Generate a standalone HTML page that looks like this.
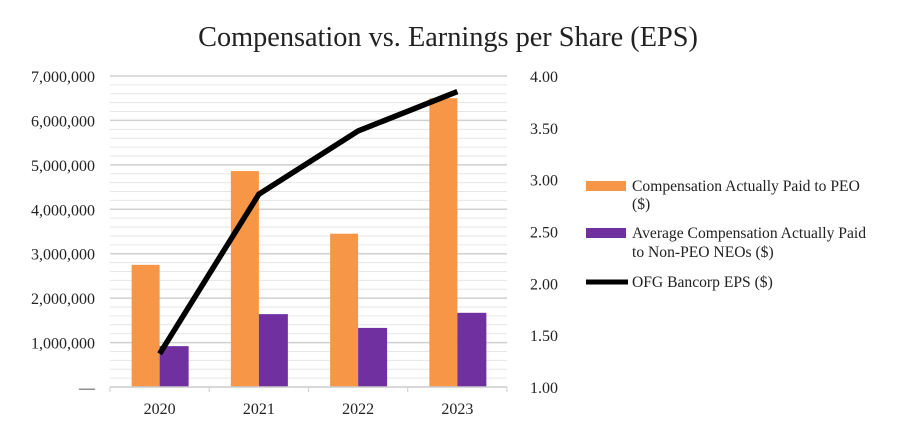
<!DOCTYPE html>
<html><head><meta charset="utf-8"><style>
body{margin:0;background:#fff;width:897px;height:436px;overflow:hidden}
svg text{font-family:"Liberation Serif",serif;fill:#222}
</style></head><body>
<svg id="chart" width="897" height="436" xmlns="http://www.w3.org/2000/svg">
<text x="448" y="46" font-size="28.3" text-anchor="middle">Compensation vs. Earnings per Share (EPS)</text>
<g id="grid"></g><g id="bars"></g><g id="axes"></g><g id="line"></g>
<g font-size="15.6">
<rect x="586" y="181" width="40" height="10" fill="#F79646"/>
<text x="632" y="191">Compensation Actually Paid to PEO</text>
<text x="632" y="209">($)</text>
<rect x="586" y="228" width="40" height="10" fill="#7030A0"/>
<text x="632" y="238">Average Compensation Actually Paid</text>
<text x="632" y="257">to Non-PEO NEOs ($)</text>
<line x1="586" y1="282" x2="628" y2="282" stroke="#000" stroke-width="5"/>
<text x="632" y="287">OFG Bancorp EPS ($)</text>
</g>
</svg>
<script>
const categories=["2020","2021","2022","2023"];
const peoValues=[2750000,4860000,3450000,6500000];
const neoValues=[920000,1640000,1330000,1670000];
const epsValues=[1.32,2.86,3.47,3.85];
const leftTicks=["—","1,000,000","2,000,000","3,000,000","4,000,000","5,000,000","6,000,000","7,000,000"];
const rightTicks=["1.00","1.50","2.00","2.50","3.00","3.50","4.00"];
const NS="http://www.w3.org/2000/svg";
const x0=110,x1=507,yTop=76,yBot=387;
const yL=v=>yBot-v/7000000*(yBot-yTop);
const yR=v=>yBot-(v-1)/3*(yBot-yTop);
const bw=(x1-x0)/categories.length;
const xC=i=>x0+bw*(i+0.5);
function mk(tag,attrs,parent){const e=document.createElementNS(NS,tag);for(const k in attrs)e.setAttribute(k,attrs[k]);document.getElementById(parent).appendChild(e);return e;}
for(let v=200000;v<=7000000;v+=200000){const major=v%1000000===0;
const l=mk('line',{x1:x0,x2:x1,y1:yL(v),y2:yL(v),stroke:major?'#d0d0d0':'#e6e6e6','stroke-width':major?1.5:1},'grid');

}
leftTicks.forEach((t,i)=>{const e=mk('text',{x:95,y:yL(i*1000000)+6,'font-size':16,'text-anchor':'end'},'axes');e.textContent=t;

});
rightTicks.forEach((t,i)=>{const e=mk('text',{x:530,y:yR(1+i*0.5)+6,'font-size':16},'axes');e.textContent=t;

});
const ax=mk('line',{x1:x0,x2:x1,y1:yBot,y2:yBot,stroke:'#ccc','stroke-width':1.5},'axes');


for(let i=0;i<=categories.length;i++){mk('line',{x1:x0+bw*i,x2:x0+bw*i,y1:yBot,y2:yBot+5,stroke:'#ccc'},'axes');}
categories.forEach((c,i)=>{
const t=mk('text',{x:xC(i),y:yBot+27,'font-size':16,'text-anchor':'middle'},'axes');t.textContent=c;


const b1=mk('rect',{x:xC(i)-28,y:yL(peoValues[i]),width:28,height:yBot-yL(peoValues[i]),fill:'#F79646'},'bars');


const b2=mk('rect',{x:xC(i),y:yL(neoValues[i]),width:29,height:yBot-yL(neoValues[i]),fill:'#7030A0'},'bars');

});
const p=mk('polyline',{points:epsValues.map((v,i)=>xC(i)+','+yR(v)).join(' '),fill:'none',stroke:'#000','stroke-width':5.5,'stroke-linejoin':'round'},'line');


</script>
</body></html>
